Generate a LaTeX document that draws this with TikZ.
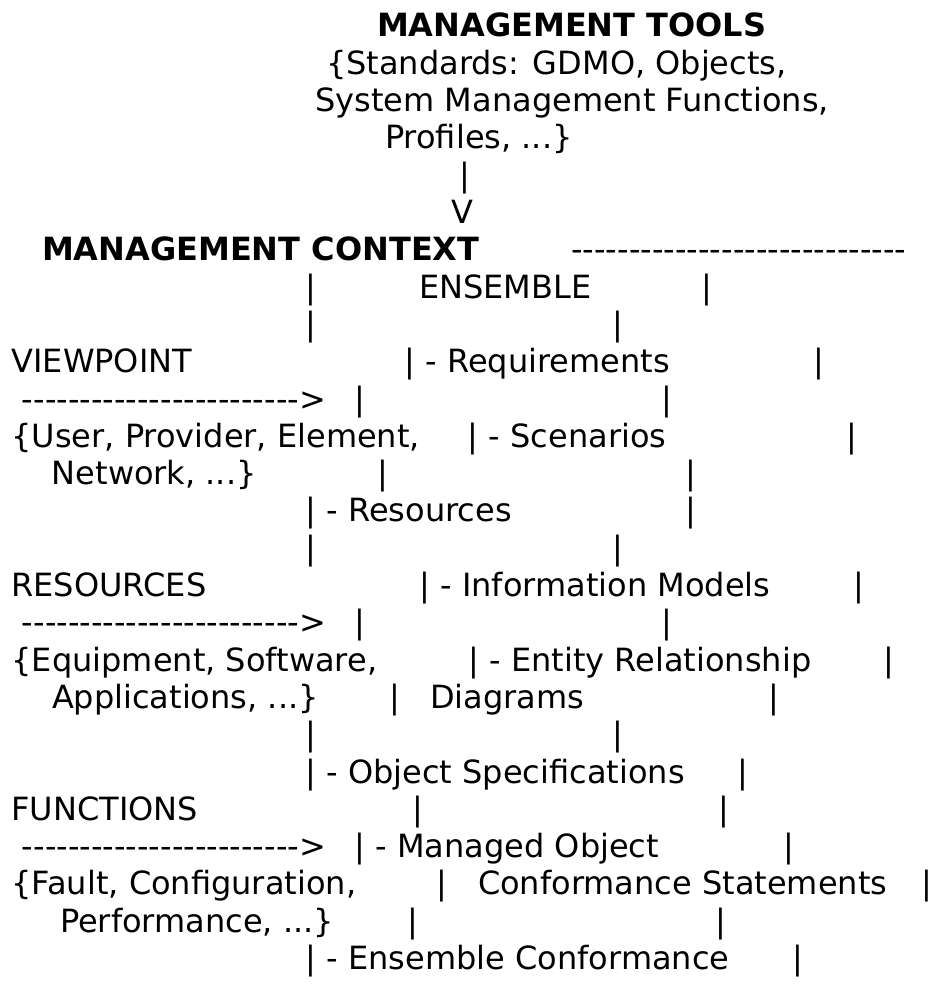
\documentclass[tikz,border=0pt]{standalone}
\usepackage{fontspec}
\newfontfamily\asciifont{DejaVu Sans}
\newcommand\dashrow[1]{\foreach \k in {1,...,#1}{-\kern0pt}}
\tikzset{
  txt/.style={anchor=base west, inner sep=0pt, outer sep=0pt,
    font=\asciifont\fontsize{32}{37}\selectfont},
  head/.style={txt, font=\asciifont\bfseries\fontsize{32}{37}\selectfont}
}
\begin{document}
\begin{tikzpicture}[x=1pt,y=-1pt]
  \useasboundingbox (0,0) rectangle (934,998);

  \node[head] (tools) at (377,37) {MANAGEMENT TOOLS};
  \node[txt] (stds) at (326,74.3) {\{Standards: GDMO, Objects,};
  \node[txt] (smf) at (315.5,111.6) {System Management Functions,};
  \node[txt] (prof) at (385.2,148.9) {Profiles, ...\}};
  \node[txt] (downbar) at (459.6,186.2) {|};
  \node[txt] (downv) at (451,223.5) {V};

  \node[head] (context) at (42,260.8) {MANAGEMENT CONTEXT};
  \node[txt] (topdash) at (571.3,260.8) {\dashrow{29}};

  \node[txt] (ensl) at (305.6,298.1) {|};
  \node[txt] (ensemble) at (419,298.1) {ENSEMBLE};
  \node[txt] (ensr) at (701.3,298.1) {|};
  \node[txt] (gapla) at (305.6,335.4) {|};
  \node[txt] (gapra) at (612.6,335.4) {|};

  % viewpoint
  \node[txt] (viewpoint) at (11.5,372.7) {VIEWPOINT};
  \node[txt] (reqs) at (404.6,372.7) {| - Requirements};
  \node[txt] (reqsr) at (813.6,372.7) {|};
  \node[txt] (vparrow) at (21.9,410) {\dashrow{24}>};
  \node[txt] (vpl) at (354.6,410) {|};
  \node[txt] (vpr) at (661.6,410) {|};
  \node[txt] (vplist) at (11.5,447.3) {\{User, Provider, Element,};
  \node[txt] (scen) at (467.9,447.3) {| - Scenarios};
  \node[txt] (scenr) at (846.6,447.3) {|};
  \node[txt] (vplist2) at (51.9,484.6) {Network, ...\}};
  \node[txt] (netl) at (377.9,484.6) {|};
  \node[txt] (netr) at (685.6,484.6) {|};
  \node[txt] (res) at (305.6,521.9) {| - Resources};
  \node[txt] (resr) at (685.6,521.9) {|};
  \node[txt] (gaplb) at (305.6,559.2) {|};
  \node[txt] (gaprb) at (612.6,559.2) {|};

  % resources
  \node[txt] (resources) at (11.5,596.5) {RESOURCES};
  \node[txt] (info) at (419.6,596.5) {| - Information Models};
  \node[txt] (infor) at (853.6,596.5) {|};
  \node[txt] (rsarrow) at (21.9,633.8) {\dashrow{24}>};
  \node[txt] (rsl) at (354.6,633.8) {|};
  \node[txt] (rsr) at (661.6,633.8) {|};
  \node[txt] (rslist) at (11.5,671.1) {\{Equipment, Software,};
  \node[txt] (entity) at (468.6,671.1) {| - Entity Relationship};
  \node[txt] (entityr) at (883.6,671.1) {|};
  \node[txt] (rslist2) at (52,708.4) {Applications, ...\}};
  \node[txt] (diagl) at (389.6,708.4) {|};
  \node[txt] (diag) at (430,708.4) {Diagrams};
  \node[txt] (diagr) at (768.6,708.4) {|};
  \node[txt] (gaplc) at (305.6,745.7) {|};
  \node[txt] (gaprc) at (612.6,745.7) {|};
  \node[txt] (objspec) at (305.6,783) {| - Object Specifications};
  \node[txt] (objspecr) at (737.6,783) {|};

  % functions
  \node[txt] (functions) at (11.5,820.3) {FUNCTIONS};
  \node[txt] (fnl) at (412.6,820.3) {|};
  \node[txt] (fnr) at (718.6,820.3) {|};
  \node[txt] (fnarrow) at (21.9,857.6) {\dashrow{24}>};
  \node[txt] (mo) at (354.6,857.6) {| - Managed Object};
  \node[txt] (mor) at (783.6,857.6) {|};
  \node[txt] (fnlist) at (11.5,894.9) {\{Fault, Configuration,};
  \node[txt] (confl) at (436.6,894.9) {|};
  \node[txt] (conf) at (478,894.9) {Conformance Statements};
  \node[txt] (confr) at (921,894.9) {|};
  \node[txt] (fnlist2) at (60,932.2) {Performance, ...\}};
  \node[txt] (perfl) at (407.6,932.2) {|};
  \node[txt] (perfr) at (715.6,932.2) {|};
  \node[txt] (ensconf) at (305.6,969.5) {| - Ensemble Conformance};
  \node[txt] (ensconfr) at (792.6,969.5) {|};
\end{tikzpicture}
\end{document}
